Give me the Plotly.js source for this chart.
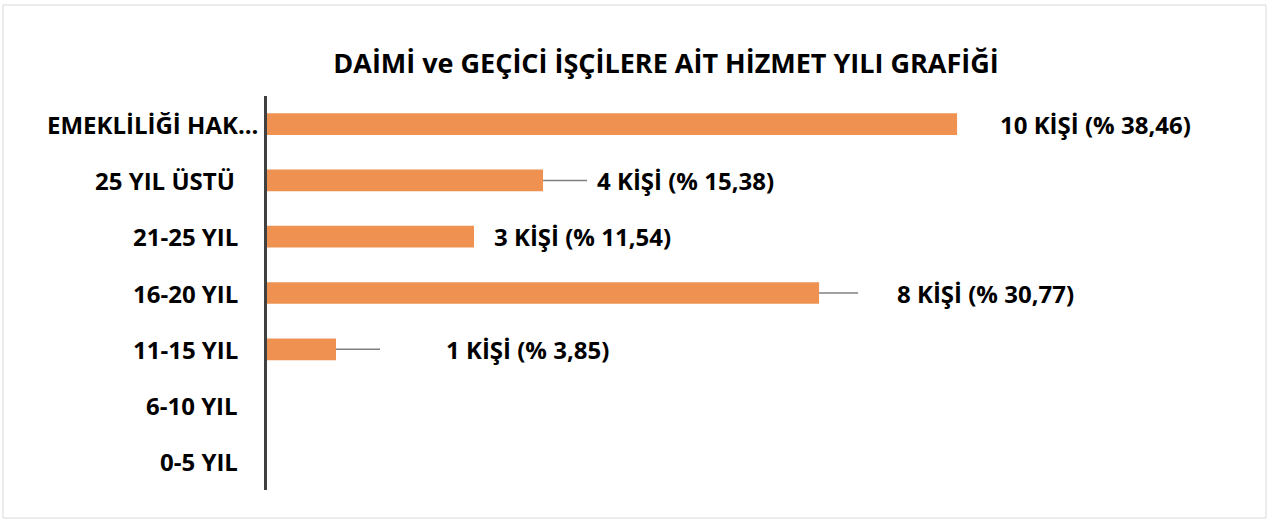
<!DOCTYPE html>
<html>
<head>
<meta charset="utf-8">
<script src="https://cdn.plot.ly/plotly-3.0.1.min.js"></script>
<style>
html,body{margin:0;padding:0;background:#fff;}
#chart{width:1270px;height:522px;}
</style>
</head>
<body>
<div id="chart"></div>
<script>
// Data (bottom to top as drawn)
const categories = ["0-5 YIL", "6-10 YIL", "11-15 YIL", "16-20 YIL", "21-25 YIL", "25 YIL ÜSTÜ", "EMEKLİLİĞİ HAK..."];
const counts = [0, 0, 1, 8, 3, 4, 10];
const valueLabels = ["", "", "1 KİŞİ (% 3,85)", "8 KİŞİ (% 30,77)", "3 KİŞİ (% 11,54)", "4 KİŞİ (% 15,38)", "10 KİŞİ (% 38,46)"];
const chartTitle = "DAİMİ ve GEÇİCİ İŞÇİLERE AİT HİZMET YILI GRAFİĞİ";

const FONT = "'Open Sans', 'Liberation Sans', sans-serif";
const W = 1270, H = 522;
const L = 267, R = 70, T = 96, B = 32;
const plotW = W - L - R, plotH = H - T - B;
const xMax = 13.52;
const pxPerUnit = plotW / xMax;

// label layout: horizontal offset of label start from bar end (px) and leader length (px)
const labelGap = {2: 108, 3: 76, 4: 18, 5: 52, 6: 41};
const leaderLen = {2: 44, 3: 39, 5: 44};

const annotations = [];
const shapes = [];

// category labels on the left
categories.forEach((c, i) => {
  let edge = 240;
  if (i === 6) edge = 260;
  if (i === 5) edge = 237;
  annotations.push({
    xref: 'paper', yref: 'y', x: (edge - L) / plotW, y: c,
    xanchor: 'right', yanchor: 'middle', showarrow: false,
    text: c, font: {family: FONT, size: 24, color: '#000', weight: 'bold'}
  });
});

// value labels with leader lines
counts.forEach((v, i) => {
  if (!valueLabels[i]) return;
  annotations.push({
    xref: 'x', yref: 'y', x: v + labelGap[i] / pxPerUnit, y: categories[i],
    xanchor: 'left', yanchor: 'middle', showarrow: false,
    text: valueLabels[i], font: {family: FONT, size: 24, color: '#000', weight: 'bold'}
  });
  if (leaderLen[i]) {
    shapes.push({
      type: 'line', xref: 'x', yref: 'y',
      x0: v, x1: v + leaderLen[i] / pxPerUnit, y0: categories[i], y1: categories[i],
      line: {color: '#808080', width: 1.5}
    });
  }
});

// outer chart border
shapes.push({
  type: 'rect', xref: 'paper', yref: 'paper',
  x0: (3 - L) / plotW, x1: (1266 - L) / plotW,
  y0: -(518 - (T + plotH)) / plotH, y1: ((T + plotH) - 5) / plotH,
  line: {color: '#d9d9d9', width: 1}, fillcolor: 'rgba(0,0,0,0)', layer: 'below'
});

const trace = {
  type: 'bar', orientation: 'h',
  x: counts, y: categories,
  width: 0.386,
  marker: {color: '#EF9150', line: {width: 0}},
  hoverinfo: 'none'
};

const layout = {
  width: W, height: H,
  margin: {l: L, r: R, t: T, b: B, pad: 0},
  paper_bgcolor: '#ffffff', plot_bgcolor: '#ffffff',
  showlegend: false,
  title: {
    text: chartTitle, x: 666 / W, xanchor: 'center', xref: 'container',
    y: 1 - 64 / H, yanchor: 'middle', yref: 'container',
    font: {family: FONT, size: 27, color: '#000', weight: 'bold'}
  },
  xaxis: {range: [0, xMax], showgrid: false, zeroline: false, showticklabels: false, showline: false, fixedrange: true},
  yaxis: {
    type: 'category', categoryorder: 'array', categoryarray: categories,
    range: [-0.5, 6.5], showgrid: false, zeroline: false, showticklabels: false,
    showline: true, linecolor: '#404040', linewidth: 3, ticks: '', fixedrange: true
  },
  annotations: annotations,
  shapes: shapes
};

Plotly.newPlot('chart', [trace], layout, {displayModeBar: false, staticPlot: true});
</script>
</body>
</html>
